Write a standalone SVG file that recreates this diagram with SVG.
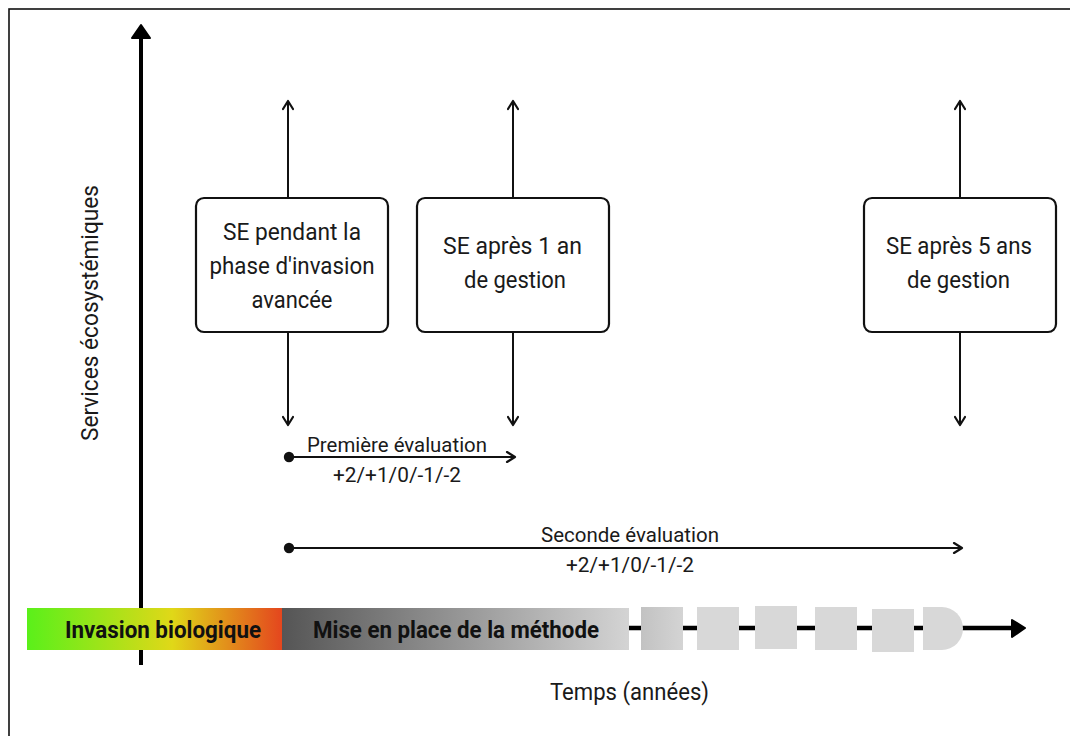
<svg xmlns="http://www.w3.org/2000/svg" width="1070" height="736" viewBox="0 0 1070 736">
<style>
.t{font-family:Roboto,"Liberation Sans",sans-serif;fill:#1a1a1a;font-size:24.5px;text-anchor:middle}
.s{font-size:21px}
.b{font-weight:bold;font-size:24px;fill:#111}
.box{fill:#fff;stroke:#111;stroke-width:2.2}
.thin{stroke:#111;stroke-width:2;fill:none}
.sq{fill:#d8d8d8}
</style>
<defs>
<marker id="chev" viewBox="0 0 12 12" refX="10" refY="6" markerWidth="12" markerHeight="12" markerUnits="userSpaceOnUse" orient="auto">
<path d="M2,1 L10,6 L2,11" fill="none" stroke="#111" stroke-width="2.2" stroke-linecap="round" stroke-linejoin="round"/>
</marker>
<linearGradient id="gInv" x1="0" x2="1" y1="0" y2="0">
<stop offset="0" stop-color="#5af01a"/>
<stop offset="0.57" stop-color="#e0d818"/>
<stop offset="1" stop-color="#e4461e"/>
</linearGradient>
<linearGradient id="gMise" x1="0" x2="1" y1="0" y2="0">
<stop offset="0" stop-color="#555"/>
<stop offset="1" stop-color="#d4d4d4"/>
</linearGradient>
<linearGradient id="gSq" x1="0" x2="1" y1="0" y2="0">
<stop offset="0" stop-color="#c2c2c2"/>
<stop offset="1" stop-color="#d4d4d4"/>
</linearGradient>
</defs>
<rect x="0" y="0" width="1070" height="736" fill="#fff"/>
<rect id="frame" x="9" y="9" width="1080" height="760" fill="none" stroke="#111" stroke-width="1.6"/>

<g id="connectors">
<line x1="141" y1="665" x2="141" y2="36" stroke="#000" stroke-width="4"/>
<path d="M132,38 L141,25 L150,38 Z" fill="#000" stroke="#000" stroke-width="2" stroke-linejoin="round"/>
<line x1="628" y1="628" x2="1016" y2="628" stroke="#000" stroke-width="4.5"/>
<path d="M1012,620 L1025,628 L1012,637 Z" fill="#000" stroke="#000" stroke-width="2" stroke-linejoin="round"/>
<line class="thin" x1="288" y1="198" x2="288" y2="101" marker-end="url(#chev)"/>
<line class="thin" x1="288" y1="332" x2="288" y2="425" marker-end="url(#chev)"/>
<line class="thin" x1="513" y1="198" x2="513" y2="101" marker-end="url(#chev)"/>
<line class="thin" x1="513" y1="332" x2="513" y2="425" marker-end="url(#chev)"/>
<line class="thin" x1="960" y1="198" x2="960" y2="101" marker-end="url(#chev)"/>
<line class="thin" x1="960" y1="332" x2="960" y2="425" marker-end="url(#chev)"/>
<circle cx="289" cy="457" r="5.2" fill="#111"/>
<line class="thin" x1="289" y1="457" x2="515" y2="457" marker-end="url(#chev)"/>
<circle cx="289" cy="548" r="5.2" fill="#111"/>
<line class="thin" x1="289" y1="548" x2="962" y2="548" marker-end="url(#chev)"/>
</g>

<g id="timeline">
<rect x="27" y="608" width="255" height="42" fill="url(#gInv)"/>
<rect x="282" y="608" width="347" height="42" fill="url(#gMise)"/>
<rect x="641" y="607" width="42" height="43" fill="url(#gSq)"/>
<rect class="sq" x="697" y="607" width="42" height="43"/>
<rect class="sq" x="755" y="606" width="42" height="43"/>
<rect class="sq" x="815" y="607" width="42" height="43"/>
<rect class="sq" x="872" y="609" width="42" height="43"/>
<path class="sq" d="M923,607 H942 A21,21.5 0 0 1 942,650 H923 Z"/>
<text class="t b" x="163" y="638" textLength="196" lengthAdjust="spacingAndGlyphs">Invasion biologique</text>
<text class="t b" x="456" y="638" textLength="286" lengthAdjust="spacingAndGlyphs">Mise en place de la méthode</text>
</g>

<g id="box1">
<rect class="box" x="196" y="198" width="192" height="134" rx="8"/>
<text class="t" x="292" y="240" textLength="138" lengthAdjust="spacingAndGlyphs">SE pendant la</text>
<text class="t" x="292" y="274" textLength="165" lengthAdjust="spacingAndGlyphs">phase d'invasion</text>
<text class="t" x="292" y="308" textLength="81" lengthAdjust="spacingAndGlyphs">avancée</text>
</g>
<g id="box2">
<rect class="box" x="417" y="198" width="192" height="134" rx="8"/>
<text class="t" x="512.5" y="254" textLength="139" lengthAdjust="spacingAndGlyphs">SE après 1 an</text>
<text class="t" x="515" y="288" textLength="102" lengthAdjust="spacingAndGlyphs">de gestion</text>
</g>
<g id="box3">
<rect class="box" x="864" y="198" width="192" height="134" rx="8"/>
<text class="t" x="959" y="254" textLength="146" lengthAdjust="spacingAndGlyphs">SE après 5 ans</text>
<text class="t" x="958.5" y="288" textLength="103" lengthAdjust="spacingAndGlyphs">de gestion</text>
</g>

<g id="labels">
<text class="t s" x="397" y="452" textLength="180" lengthAdjust="spacingAndGlyphs">Première évaluation</text>
<text class="t s" x="397" y="482" textLength="128" lengthAdjust="spacingAndGlyphs">+2/+1/0/-1/-2</text>
<text class="t s" x="630" y="542" textLength="178" lengthAdjust="spacingAndGlyphs">Seconde évaluation</text>
<text class="t s" x="630" y="572" textLength="128" lengthAdjust="spacingAndGlyphs">+2/+1/0/-1/-2</text>
<text class="t" x="629.5" y="700" textLength="159" lengthAdjust="spacingAndGlyphs">Temps (années)</text>
<text class="t" transform="translate(98,313) rotate(-90)" textLength="256" lengthAdjust="spacingAndGlyphs">Services écosystémiques</text>
</g>
</svg>
